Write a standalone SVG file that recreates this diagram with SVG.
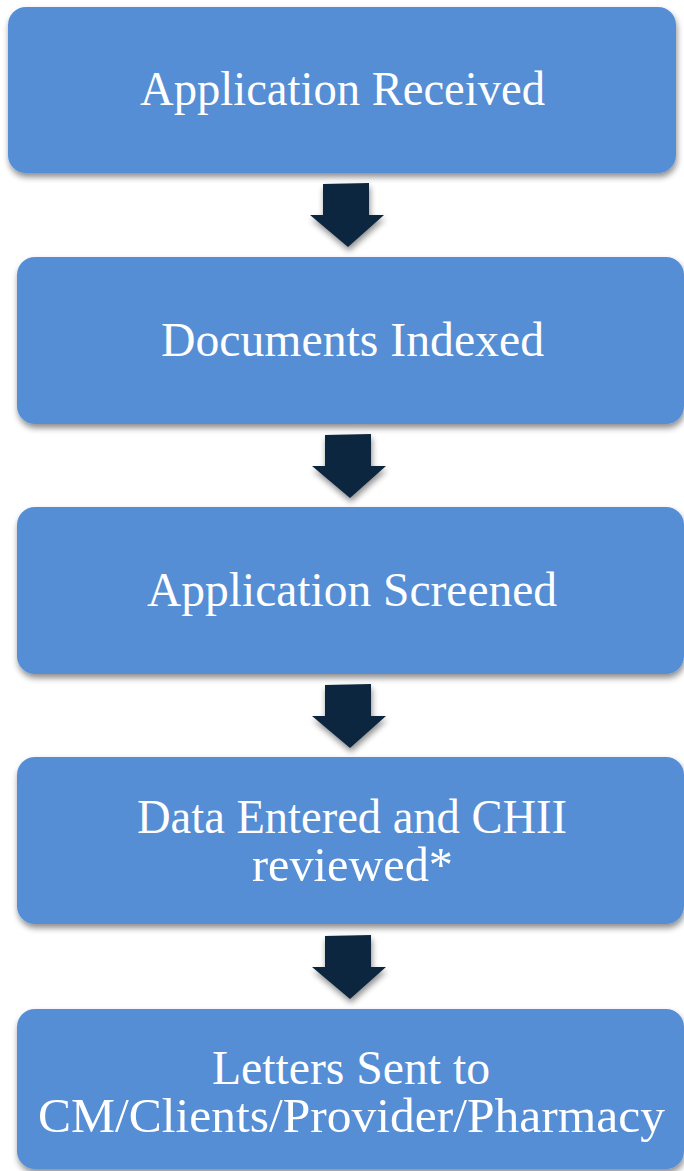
<svg xmlns="http://www.w3.org/2000/svg" width="684" height="1171" viewBox="0 0 684 1171">
  <defs>
    <filter id="shadow" x="-10%" y="-10%" width="120%" height="130%">
      <feGaussianBlur in="SourceAlpha" stdDeviation="3"/>
      <feOffset dx="1" dy="4" result="b"/>
      <feComponentTransfer><feFuncA type="linear" slope="0.45"/></feComponentTransfer>
      <feMerge><feMergeNode/><feMergeNode in="SourceGraphic"/></feMerge>
    </filter>
    <!-- block down-arrow, origin at top-centre of the shaft -->
    <path id="arrow" d="M-25,0 L21,-1 L21,31 L36,31 L0,63 L-38,31 L-25,31 Z"/>
  </defs>
  <style>
    .box { fill: #558ED5; filter: url(#shadow); }
    .lbl { fill: #ffffff; font-family: "Liberation Serif", "DejaVu Serif", serif; font-size: 48px; text-anchor: middle; }
    .arr { fill: #10253F; filter: url(#shadow); }
  </style>
  <rect width="684" height="1171" fill="#ffffff"/>
  <g id="connectors">
    <use href="#arrow" class="arr" x="348" y="184"/>
    <use href="#arrow" class="arr" x="350" y="435"/>
    <use href="#arrow" class="arr" x="350" y="685"/>
    <use href="#arrow" class="arr" x="350" y="936"/>
  </g>
  <g id="node-received">
    <rect class="box" x="8" y="7" width="668" height="166" rx="18"/>
    <text class="lbl" x="342.5" y="105" textLength="405" lengthAdjust="spacingAndGlyphs">Application Received</text>
  </g>
  <g id="node-indexed">
    <rect class="box" x="17" y="257" width="667" height="167" rx="18"/>
    <text class="lbl" x="352.5" y="356" textLength="383" lengthAdjust="spacingAndGlyphs">Documents Indexed</text>
  </g>
  <g id="node-screened">
    <rect class="box" x="17" y="507" width="667" height="167" rx="18"/>
    <text class="lbl" x="352" y="606" textLength="410" lengthAdjust="spacingAndGlyphs">Application Screened</text>
  </g>
  <g id="node-entered">
    <rect class="box" x="17" y="757" width="667" height="167" rx="18"/>
    <text class="lbl" x="352" y="833" textLength="430" lengthAdjust="spacingAndGlyphs">Data Entered and CHII</text>
    <text class="lbl" x="352.5" y="881" textLength="201" lengthAdjust="spacingAndGlyphs">reviewed*</text>
  </g>
  <g id="node-letters">
    <rect class="box" x="17" y="1009" width="667" height="160" rx="18"/>
    <text class="lbl" x="351" y="1084" textLength="278" lengthAdjust="spacingAndGlyphs">Letters Sent to</text>
    <text class="lbl" x="351.5" y="1132" textLength="627" lengthAdjust="spacingAndGlyphs">CM/Clients/Provider/Pharmacy</text>
  </g>
</svg>
